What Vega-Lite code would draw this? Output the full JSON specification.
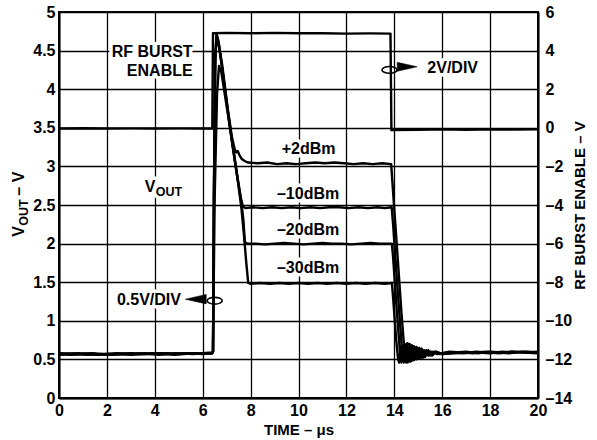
{
"$schema":"https://vega.github.io/schema/vega-lite/v6.json",
"width":479,"height":386,
"autosize":{"type":"none"},
"padding":{"left":59,"top":12,"right":59,"bottom":42},
"background":"white",
"config":{"font":"Liberation Sans","view":{"stroke":"black","strokeWidth":2},
"axis":{"domainColor":"black","domainWidth":2,"gridColor":"black","gridWidth":1.3,"gridOpacity":1,"ticks":false,"labelFont":"Liberation Sans","labelFontSize":16,"labelFontWeight":"bold","labelColor":"black","titleFont":"Liberation Sans","titleFontSize":15,"titleFontWeight":"bold","titleColor":"black","labelFlush":false,"labelOverlap":false}},
"datasets":{
"vout":[
{"s":"p2","t":0,"v":0.57},{"s":"p2","t":0.5,"v":0.56},{"s":"p2","t":1,"v":0.57},{"s":"p2","t":1.5,"v":0.57},{"s":"p2","t":2,"v":0.56},{"s":"p2","t":2.5,"v":0.57},{"s":"p2","t":3,"v":0.58},{"s":"p2","t":3.5,"v":0.57},{"s":"p2","t":4,"v":0.57},{"s":"p2","t":4.5,"v":0.58},{"s":"p2","t":5,"v":0.57},{"s":"p2","t":5.5,"v":0.58},{"s":"p2","t":6,"v":0.58},{"s":"p2","t":6.4,"v":0.58},
{"s":"p2","t":6.43,"v":0.6},{"s":"p2","t":6.47,"v":2.6},{"s":"p2","t":6.52,"v":4.35},{"s":"p2","t":6.58,"v":4.72},{"s":"p2","t":6.66,"v":4.62},{"s":"p2","t":6.82,"v":4.3},{"s":"p2","t":7.04,"v":3.76},{"s":"p2","t":7.22,"v":3.38},{"s":"p2","t":7.34,"v":3.22},{"s":"p2","t":7.4,"v":3.18},{"s":"p2","t":7.46,"v":3.2},{"s":"p2","t":7.53,"v":3.15},{"s":"p2","t":7.62,"v":3.1},{"s":"p2","t":7.75,"v":3.07},{"s":"p2","t":7.9,"v":3.05},
{"s":"p2","t":8.3,"v":3.04},{"s":"p2","t":8.7,"v":3.05},{"s":"p2","t":9.1,"v":3.03},{"s":"p2","t":9.5,"v":3.04},{"s":"p2","t":9.9,"v":3.03},{"s":"p2","t":10.3,"v":3.04},{"s":"p2","t":10.7,"v":3.05},{"s":"p2","t":11.1,"v":3.04},{"s":"p2","t":11.5,"v":3.05},{"s":"p2","t":11.9,"v":3.04},{"s":"p2","t":12.3,"v":3.03},{"s":"p2","t":12.7,"v":3.04},{"s":"p2","t":13.1,"v":3.03},{"s":"p2","t":13.5,"v":3.04},{"s":"p2","t":13.87,"v":3.03},
{"s":"p2","t":13.92,"v":2.8},{"s":"p2","t":14.1,"v":2.0},{"s":"p2","t":14.3,"v":1.1},{"s":"p2","t":14.45,"v":0.5},{"s":"p2","t":14.5,"v":0.46},
{"s":"p2","t":14.58,"v":0.7},{"s":"p2","t":14.66,"v":0.47},{"s":"p2","t":14.74,"v":0.68},{"s":"p2","t":14.82,"v":0.49},{"s":"p2","t":14.92,"v":0.66},{"s":"p2","t":15.02,"v":0.51},{"s":"p2","t":15.14,"v":0.64},{"s":"p2","t":15.28,"v":0.53},{"s":"p2","t":15.42,"v":0.62},{"s":"p2","t":15.58,"v":0.55},{"s":"p2","t":15.75,"v":0.6},{"s":"p2","t":16,"v":0.57},
{"s":"p2","t":16.5,"v":0.59},{"s":"p2","t":17,"v":0.6},{"s":"p2","t":17.5,"v":0.58},{"s":"p2","t":18,"v":0.6},{"s":"p2","t":18.5,"v":0.59},{"s":"p2","t":19,"v":0.6},{"s":"p2","t":19.5,"v":0.59},{"s":"p2","t":20,"v":0.6},

{"s":"m10","t":0,"v":0.56},{"s":"m10","t":0.6,"v":0.57},{"s":"m10","t":1.2,"v":0.56},{"s":"m10","t":1.8,"v":0.57},{"s":"m10","t":2.4,"v":0.57},{"s":"m10","t":3,"v":0.56},{"s":"m10","t":3.6,"v":0.57},{"s":"m10","t":4.2,"v":0.58},{"s":"m10","t":4.8,"v":0.57},{"s":"m10","t":5.4,"v":0.58},{"s":"m10","t":6,"v":0.57},{"s":"m10","t":6.4,"v":0.58},
{"s":"m10","t":6.43,"v":0.6},{"s":"m10","t":6.47,"v":2.7},{"s":"m10","t":6.52,"v":4.4},{"s":"m10","t":6.58,"v":4.7},{"s":"m10","t":6.66,"v":4.6},{"s":"m10","t":6.8,"v":4.3},{"s":"m10","t":7.04,"v":3.73},{"s":"m10","t":7.25,"v":3.27},{"s":"m10","t":7.47,"v":2.82},{"s":"m10","t":7.6,"v":2.58},{"s":"m10","t":7.68,"v":2.48},{"s":"m10","t":7.78,"v":2.46},
{"s":"m10","t":8.1,"v":2.47},{"s":"m10","t":8.5,"v":2.46},{"s":"m10","t":8.9,"v":2.47},{"s":"m10","t":9.3,"v":2.46},{"s":"m10","t":9.7,"v":2.47},{"s":"m10","t":10.1,"v":2.46},{"s":"m10","t":10.5,"v":2.47},{"s":"m10","t":10.9,"v":2.46},{"s":"m10","t":11.3,"v":2.47},{"s":"m10","t":11.7,"v":2.47},{"s":"m10","t":12.1,"v":2.46},{"s":"m10","t":12.5,"v":2.47},{"s":"m10","t":12.9,"v":2.46},{"s":"m10","t":13.3,"v":2.47},{"s":"m10","t":13.6,"v":2.46},{"s":"m10","t":13.89,"v":2.47},
{"s":"m10","t":13.95,"v":2.25},{"s":"m10","t":14.15,"v":1.35},{"s":"m10","t":14.35,"v":0.5},{"s":"m10","t":14.4,"v":0.46},
{"s":"m10","t":14.48,"v":0.69},{"s":"m10","t":14.56,"v":0.46},{"s":"m10","t":14.64,"v":0.7},{"s":"m10","t":14.72,"v":0.48},{"s":"m10","t":14.82,"v":0.67},{"s":"m10","t":14.92,"v":0.5},{"s":"m10","t":15.04,"v":0.65},{"s":"m10","t":15.18,"v":0.52},{"s":"m10","t":15.34,"v":0.62},{"s":"m10","t":15.5,"v":0.55},{"s":"m10","t":15.7,"v":0.6},{"s":"m10","t":16,"v":0.57},
{"s":"m10","t":16.5,"v":0.58},{"s":"m10","t":17,"v":0.59},{"s":"m10","t":17.5,"v":0.59},{"s":"m10","t":18,"v":0.58},{"s":"m10","t":18.5,"v":0.6},{"s":"m10","t":19,"v":0.59},{"s":"m10","t":19.5,"v":0.6},{"s":"m10","t":20,"v":0.59},

{"s":"m20","t":0,"v":0.58},{"s":"m20","t":0.7,"v":0.57},{"s":"m20","t":1.4,"v":0.58},{"s":"m20","t":2.1,"v":0.56},{"s":"m20","t":2.8,"v":0.57},{"s":"m20","t":3.5,"v":0.58},{"s":"m20","t":4.2,"v":0.56},{"s":"m20","t":4.9,"v":0.58},{"s":"m20","t":5.6,"v":0.57},{"s":"m20","t":6.4,"v":0.59},
{"s":"m20","t":6.43,"v":0.6},{"s":"m20","t":6.47,"v":2.7},{"s":"m20","t":6.53,"v":4.45},{"s":"m20","t":6.59,"v":4.68},{"s":"m20","t":6.68,"v":4.56},{"s":"m20","t":6.82,"v":4.26},{"s":"m20","t":7.05,"v":3.72},{"s":"m20","t":7.26,"v":3.26},{"s":"m20","t":7.48,"v":2.8},{"s":"m20","t":7.62,"v":2.52},{"s":"m20","t":7.7,"v":2.3},{"s":"m20","t":7.76,"v":2.02},{"s":"m20","t":7.85,"v":2.0},
{"s":"m20","t":8.2,"v":2.0},{"s":"m20","t":8.6,"v":1.99},{"s":"m20","t":9,"v":2.0},{"s":"m20","t":9.4,"v":2.01},{"s":"m20","t":9.8,"v":2.0},{"s":"m20","t":10.2,"v":1.99},{"s":"m20","t":10.6,"v":2.0},{"s":"m20","t":11,"v":2.01},{"s":"m20","t":11.4,"v":2.0},{"s":"m20","t":11.8,"v":2.0},{"s":"m20","t":12.2,"v":1.99},{"s":"m20","t":12.6,"v":2.0},{"s":"m20","t":13,"v":2.01},{"s":"m20","t":13.4,"v":2.0},{"s":"m20","t":13.9,"v":2.0},
{"s":"m20","t":13.95,"v":1.82},{"s":"m20","t":14.1,"v":1.15},{"s":"m20","t":14.26,"v":0.5},{"s":"m20","t":14.3,"v":0.46},
{"s":"m20","t":14.38,"v":0.68},{"s":"m20","t":14.46,"v":0.47},{"s":"m20","t":14.54,"v":0.71},{"s":"m20","t":14.62,"v":0.48},{"s":"m20","t":14.72,"v":0.68},{"s":"m20","t":14.82,"v":0.5},{"s":"m20","t":14.94,"v":0.65},{"s":"m20","t":15.08,"v":0.52},{"s":"m20","t":15.24,"v":0.62},{"s":"m20","t":15.42,"v":0.55},{"s":"m20","t":15.62,"v":0.6},{"s":"m20","t":15.9,"v":0.57},
{"s":"m20","t":16.4,"v":0.59},{"s":"m20","t":16.9,"v":0.58},{"s":"m20","t":17.4,"v":0.6},{"s":"m20","t":17.9,"v":0.59},{"s":"m20","t":18.4,"v":0.58},{"s":"m20","t":18.9,"v":0.6},{"s":"m20","t":19.4,"v":0.59},{"s":"m20","t":20,"v":0.58},

{"s":"m30","t":0,"v":0.57},{"s":"m30","t":0.8,"v":0.58},{"s":"m30","t":1.6,"v":0.56},{"s":"m30","t":2.4,"v":0.58},{"s":"m30","t":3.2,"v":0.57},{"s":"m30","t":4,"v":0.58},{"s":"m30","t":4.8,"v":0.56},{"s":"m30","t":5.6,"v":0.58},{"s":"m30","t":6.4,"v":0.58},
{"s":"m30","t":6.43,"v":0.6},{"s":"m30","t":6.5,"v":2.6},{"s":"m30","t":6.6,"v":3.95},{"s":"m30","t":6.68,"v":4.3},{"s":"m30","t":6.78,"v":4.22},{"s":"m30","t":7.04,"v":3.7},{"s":"m30","t":7.26,"v":3.24},{"s":"m30","t":7.48,"v":2.78},{"s":"m30","t":7.62,"v":2.45},{"s":"m30","t":7.72,"v":2.12},{"s":"m30","t":7.82,"v":1.75},{"s":"m30","t":7.9,"v":1.49},
{"s":"m30","t":8.0,"v":1.48},{"s":"m30","t":8.4,"v":1.49},{"s":"m30","t":8.8,"v":1.48},{"s":"m30","t":9.2,"v":1.49},{"s":"m30","t":9.6,"v":1.48},{"s":"m30","t":10,"v":1.49},{"s":"m30","t":10.4,"v":1.48},{"s":"m30","t":10.8,"v":1.49},{"s":"m30","t":11.2,"v":1.48},{"s":"m30","t":11.6,"v":1.49},{"s":"m30","t":12,"v":1.48},{"s":"m30","t":12.4,"v":1.49},{"s":"m30","t":12.8,"v":1.48},{"s":"m30","t":13.2,"v":1.49},{"s":"m30","t":13.6,"v":1.48},{"s":"m30","t":13.9,"v":1.49},
{"s":"m30","t":13.95,"v":1.3},{"s":"m30","t":14.08,"v":0.75},{"s":"m30","t":14.16,"v":0.5},{"s":"m30","t":14.2,"v":0.46},
{"s":"m30","t":14.28,"v":0.66},{"s":"m30","t":14.36,"v":0.48},{"s":"m30","t":14.44,"v":0.7},{"s":"m30","t":14.52,"v":0.47},{"s":"m30","t":14.62,"v":0.69},{"s":"m30","t":14.72,"v":0.5},{"s":"m30","t":14.84,"v":0.66},{"s":"m30","t":14.98,"v":0.52},{"s":"m30","t":15.14,"v":0.63},{"s":"m30","t":15.32,"v":0.55},{"s":"m30","t":15.52,"v":0.6},{"s":"m30","t":15.8,"v":0.57},
{"s":"m30","t":16.3,"v":0.6},{"s":"m30","t":16.8,"v":0.59},{"s":"m30","t":17.3,"v":0.58},{"s":"m30","t":17.8,"v":0.6},{"s":"m30","t":18.3,"v":0.59},{"s":"m30","t":18.8,"v":0.58},{"s":"m30","t":19.3,"v":0.6},{"s":"m30","t":20,"v":0.59}
],
"rf":[
{"t":0,"r":-0.04},{"t":1,"r":-0.02},{"t":2,"r":-0.04},{"t":3,"r":-0.03},{"t":4,"r":-0.04},{"t":5,"r":-0.03},{"t":6,"r":-0.04},{"t":6.4,"r":-0.04},{"t":6.43,"r":4.9},{"t":7,"r":4.92},{"t":8,"r":4.9},{"t":9,"r":4.92},{"t":10,"r":4.9},{"t":11,"r":4.9},{"t":12,"r":4.88},{"t":13,"r":4.89},{"t":13.84,"r":4.88},{"t":13.88,"r":-0.12},{"t":15,"r":-0.1},{"t":16,"r":-0.08},{"t":17,"r":-0.1},{"t":18,"r":-0.08},{"t":19,"r":-0.09},{"t":20,"r":-0.08}
],
"labR":[{"t":5.58,"v":4.48,"label":"RF BURST"},{"t":5.58,"v":4.24,"label":"ENABLE"}],
"labC":[{"t":10.42,"v":3.23,"label":"+2dBm"},{"t":10.4,"v":2.64,"label":"–10dBm"},{"t":10.4,"v":2.18,"label":"–20dBm"},{"t":10.4,"v":1.68,"label":"–30dBm"}],
"labL":[{"t":15.38,"v":4.27,"label":"2V/DIV"},{"t":2.42,"v":1.27,"label":"0.5V/DIV"}],
"voutlab":[{"t":3.58,"v":2.67}],
"ytitle":[{"t":-1.46,"v":2.09}],
"ell":[{"t":13.8,"v":4.25},{"t":6.5,"v":1.26}],
"headR":[{"t":14.54,"v":4.29}],
"headL":[{"t":5.71,"v":1.28}]
},
"encoding":{"x":{"field":"t","type":"quantitative","scale":{"domain":[0,20],"nice":false,"zero":false},"axis":{"values":[0,2,4,6,8,10,12,14,16,18,20],"grid":true,"title":"TIME – μs","labelPadding":4,"titlePadding":4}}},
"layer":[
{"encoding":{"y":{"field":"v","type":"quantitative","scale":{"domain":[0,5],"nice":false,"zero":false},"axis":{"values":[0,0.5,1,1.5,2,2.5,3,3.5,4,4.5,5],"format":"~g","grid":true,"title":null,"labelPadding":4}}},
"layer":[
{"data":{"name":"labR"},"mark":{"type":"text","align":"right","baseline":"middle","font":"Liberation Sans","fontWeight":"bold","fontSize":16,"fill":"white","stroke":"white","strokeWidth":7,"strokeJoin":"round"},"encoding":{"text":{"field":"label"}}},
{"data":{"name":"labC"},"mark":{"type":"text","align":"center","baseline":"middle","font":"Liberation Sans","fontWeight":"bold","fontSize":16,"fill":"white","stroke":"white","strokeWidth":7,"strokeJoin":"round"},"encoding":{"text":{"field":"label"}}},
{"data":{"name":"labL"},"mark":{"type":"text","align":"left","baseline":"middle","font":"Liberation Sans","fontWeight":"bold","fontSize":16,"fill":"white","stroke":"white","strokeWidth":7,"strokeJoin":"round"},"encoding":{"text":{"field":"label"}}},
{"data":{"name":"voutlab"},"mark":{"type":"text","text":"V","align":"left","baseline":"alphabetic","font":"Liberation Sans","fontWeight":"bold","fontSize":16,"fill":"white","stroke":"white","strokeWidth":7,"strokeJoin":"round"}},
{"data":{"name":"voutlab"},"mark":{"type":"text","text":"OUT","align":"left","baseline":"alphabetic","dx":11,"dy":4,"font":"Liberation Sans","fontWeight":"bold","fontSize":12.5,"fill":"white","stroke":"white","strokeWidth":7,"strokeJoin":"round"}},
{"data":{"name":"vout"},"mark":{"type":"line","stroke":"black","strokeWidth":2.4,"strokeJoin":"round"},"encoding":{"detail":{"field":"s"}}},
{"data":{"name":"labR"},"mark":{"type":"text","align":"right","baseline":"middle","font":"Liberation Sans","fontWeight":"bold","fontSize":16,"fill":"black"},"encoding":{"text":{"field":"label"}}},
{"data":{"name":"labC"},"mark":{"type":"text","align":"center","baseline":"middle","font":"Liberation Sans","fontWeight":"bold","fontSize":16,"fill":"black"},"encoding":{"text":{"field":"label"}}},
{"data":{"name":"labL"},"mark":{"type":"text","align":"left","baseline":"middle","font":"Liberation Sans","fontWeight":"bold","fontSize":16,"fill":"black"},"encoding":{"text":{"field":"label"}}},
{"data":{"name":"voutlab"},"mark":{"type":"text","text":"V","align":"left","baseline":"alphabetic","font":"Liberation Sans","fontWeight":"bold","fontSize":16,"fill":"black"}},
{"data":{"name":"voutlab"},"mark":{"type":"text","text":"OUT","align":"left","baseline":"alphabetic","dx":11,"dy":4,"font":"Liberation Sans","fontWeight":"bold","fontSize":12.5,"fill":"black"}},
{"data":{"name":"ytitle"},"mark":{"type":"text","text":"V","angle":270,"align":"left","baseline":"alphabetic","font":"Liberation Sans","fontWeight":"bold","fontSize":16,"fill":"black"}},
{"data":{"name":"ytitle"},"mark":{"type":"text","text":"OUT","angle":270,"align":"left","baseline":"alphabetic","dx":11,"dy":4,"font":"Liberation Sans","fontWeight":"bold","fontSize":12.5,"fill":"black"}},
{"data":{"name":"ytitle"},"mark":{"type":"text","text":"– V","angle":270,"align":"left","baseline":"alphabetic","dx":41,"font":"Liberation Sans","fontWeight":"bold","fontSize":16,"fill":"black"}},
{"data":{"name":"ell"},"mark":{"type":"point","shape":"M-1,0A1,0.45 0 1,0 1,0A1,0.45 0 1,0 -1,0Z","size":225,"filled":false,"stroke":"black","strokeWidth":1.6,"opacity":1}},
{"data":{"name":"headR"},"mark":{"type":"point","shape":"M-1,-0.45L1,0L-1,0.45Z","size":400,"filled":true,"fill":"black","stroke":"black","strokeWidth":0.5,"opacity":1}},
{"data":{"name":"headL"},"mark":{"type":"point","shape":"M1,-0.45L-1,0L1,0.45Z","size":440,"filled":true,"fill":"black","stroke":"black","strokeWidth":0.5,"opacity":1}}
]},
{"data":{"name":"rf"},"mark":{"type":"line","stroke":"black","strokeWidth":2.4,"strokeJoin":"round"},
"encoding":{"y":{"field":"r","type":"quantitative","scale":{"domain":[-14,6],"nice":false,"zero":false},"axis":{"orient":"right","values":[-14,-12,-10,-8,-6,-4,-2,0,2,4,6],"labelExpr":"replace(datum.label,'−','–')","grid":false,"title":"RF BURST ENABLE – V","titleAngle":270,"labelPadding":7,"titlePadding":16}}}}
],
"resolve":{"scale":{"y":"independent"},"axis":{"y":"independent"}}
}
